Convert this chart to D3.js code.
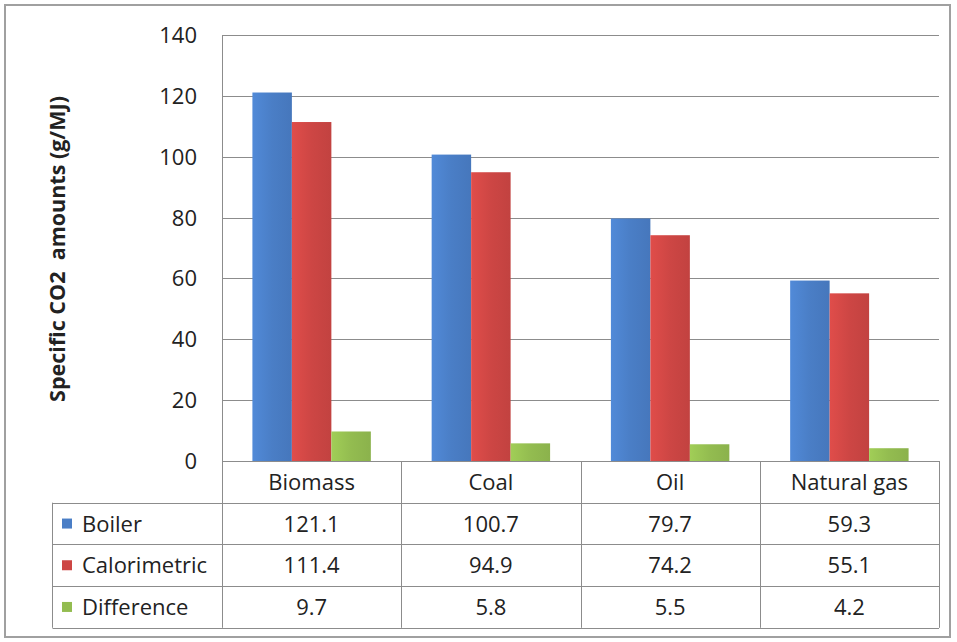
<!DOCTYPE html>
<html>
<head>
<meta charset="utf-8">
<script src="https://cdn.jsdelivr.net/npm/d3@7"></script>
<style>
  body { margin: 0; background: #fff; }
  text { font-family: "Open Sans", Lato, sans-serif; fill: #222; }
</style>
</head>
<body>
<script>
// chart values
let categories = ['Biomass', 'Coal', 'Oil', 'Natural gas'];
let seriesNames = ['Boiler', 'Calorimetric', 'Difference'];
let boiler = [121.1, 100.7, 79.7, 59.3];
let calorimetric = [111.4, 94.9, 74.2, 55.1];
let difference = [9.7, 5.8, 5.5, 4.2];
let yTicks = [0, 20, 40, 60, 80, 100, 120, 140];
let colors = ['#4a7ec6', '#cd4644', '#93bc50'];

let series = [boiler, calorimetric, difference];

let svg = d3.select('body').append('svg').attr('width', 957).attr('height', 642);

// outer frame
svg.append('rect').attr('x', 5).attr('y', 5).attr('width', 945).attr('height', 632)
   .attr('fill', 'none').attr('stroke', '#a0a0a0').attr('stroke-width', 2);

let plotLeft = 222, plotRight = 939, plotTop = 35, plotBottom = 461;
let rowH = 41.7;

let x = d3.scaleBand().domain(categories).range([plotLeft, plotRight]);
let x1 = d3.scaleBand().domain(seriesNames).range([0, x.bandwidth()]).paddingOuter(0.77).paddingInner(0);
let y = d3.scaleLinear().domain([0, 140]).range([plotBottom, plotTop]);

// gridlines
svg.append('g').selectAll('line').data(yTicks.filter(d => d > 0)).enter().append('line')
   .attr('x1', plotLeft).attr('x2', plotRight)
   .attr('y1', d => Math.round(y(d)) + 0.5).attr('y2', d => Math.round(y(d)) + 0.5)
   .attr('stroke', '#8c8c8c').attr('stroke-width', 1);

// y tick labels
svg.append('g').selectAll('text').data(yTicks).enter().append('text')
   .attr('x', 197).attr('y', d => y(d) + 8)
   .attr('text-anchor', 'end').attr('font-size', '22px')
   .text(d => d);

// axis title
svg.append('text')
   .attr('transform', 'translate(65,249) rotate(-90)')
   .attr('text-anchor', 'middle').attr('font-size', '21.5px').attr('font-weight', 'bold')
   .attr('xml:space', 'preserve')
   .text('Specific CO2  amounts (g/MJ)');

// gradients to mimic the shaded columns
let defs = svg.append('defs');
colors.forEach(function(c, i) {
  let g = defs.append('linearGradient').attr('id', 'grad' + i).attr('x1', '0').attr('x2', '1').attr('y1', '0').attr('y2', '0');
  g.append('stop').attr('offset', '0%').attr('stop-color', d3.color(c).brighter(0.25));
  g.append('stop').attr('offset', '50%').attr('stop-color', c);
  g.append('stop').attr('offset', '100%').attr('stop-color', d3.color(c).darker(0.15));
});

// bars
series.forEach(function(vals, si) {
  svg.append('g').selectAll('rect').data(vals).enter().append('rect')
     .attr('x', (d, i) => x(categories[i]) + x1(seriesNames[si]))
     .attr('width', x1.bandwidth())
     .attr('y', d => y(d))
     .attr('height', d => plotBottom - y(d))
     .attr('fill', 'url(#grad' + si + ')');
});

// vertical axis line
svg.append('line').attr('x1', plotLeft + 0.5).attr('x2', plotLeft + 0.5).attr('y1', plotTop).attr('y2', plotBottom)
   .attr('stroke', '#8c8c8c');

// data table
let tbl = svg.append('g');
let lineColor = '#8c8c8c';
let tableLeft = 52.5;
// horizontal lines
[0, 1, 2, 3, 4].forEach(function(r) {
  let yy = Math.round(plotBottom + r * rowH) + 0.5;
  tbl.append('line').attr('x1', r === 0 ? plotLeft : tableLeft).attr('x2', plotRight)
     .attr('y1', yy).attr('y2', yy).attr('stroke', lineColor);
});
// vertical lines
categories.concat(['end']).forEach(function(c, i) {
  let xx = Math.round(plotLeft + i * x.bandwidth()) + 0.5;
  tbl.append('line').attr('x1', xx).attr('x2', xx)
     .attr('y1', plotBottom).attr('y2', plotBottom + 4 * rowH).attr('stroke', lineColor);
});
tbl.append('line').attr('x1', tableLeft).attr('x2', tableLeft)
   .attr('y1', plotBottom + rowH).attr('y2', plotBottom + 4 * rowH).attr('stroke', lineColor);

// category labels
tbl.selectAll('text.cat').data(categories).enter().append('text')
   .attr('x', d => x(d) + x.bandwidth() / 2).attr('y', plotBottom + rowH / 2 + 8)
   .attr('text-anchor', 'middle').attr('font-size', '22px')
   .text(d => d);

// legend keys and series names
seriesNames.forEach(function(name, si) {
  let cy = plotBottom + (si + 1) * rowH + rowH / 2;
  tbl.append('rect').attr('x', 62).attr('y', cy - 5).attr('width', 10).attr('height', 10)
     .attr('fill', colors[si]);
  tbl.append('text').attr('x', 82).attr('y', cy + 8).attr('font-size', '22px').text(name);
  tbl.selectAll('text.v' + si).data(series[si]).enter().append('text')
     .attr('x', (d, i) => x(categories[i]) + x.bandwidth() / 2).attr('y', cy + 8)
     .attr('text-anchor', 'middle').attr('font-size', '22px')
     .text(d => d.toFixed(1));
});
</script>
</body>
</html>
